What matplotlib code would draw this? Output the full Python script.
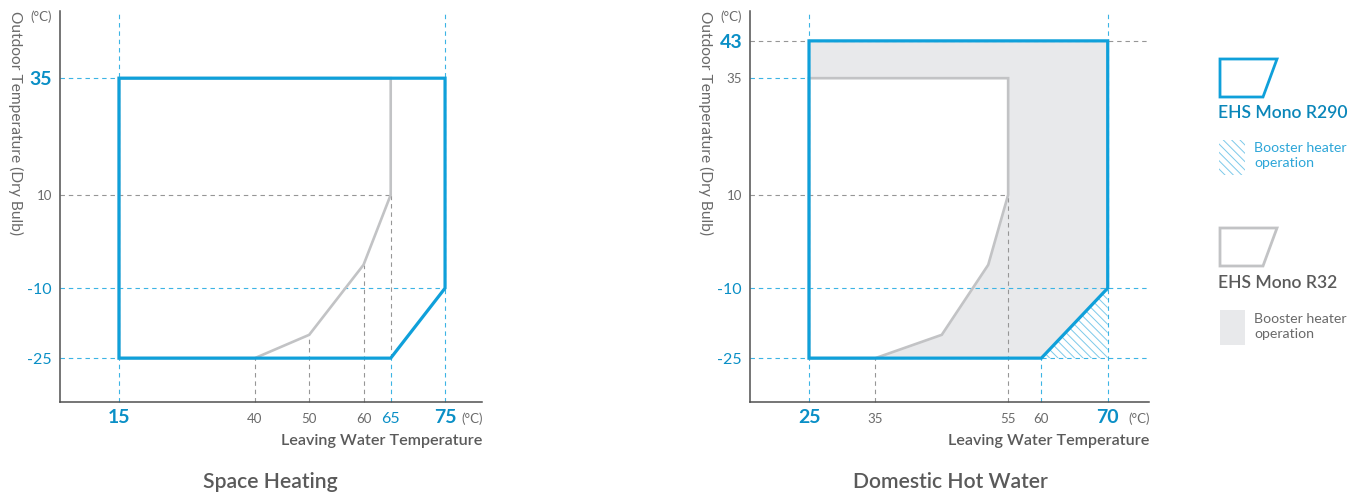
import matplotlib
matplotlib.use("Agg")
import matplotlib.pyplot as plt
from matplotlib.patches import Polygon

plt.rcParams['font.family'] = ['Lato', 'DejaVu Sans']
plt.rcParams['hatch.linewidth'] = 0.7

# ---- operating envelopes (leaving water temp, outdoor temp) ----
sh_r290_x = [15, 15, 75, 75, 65]
sh_r290_y = [-25, 35, 35, -10, -25]
sh_r32_x = [15, 15, 65, 65, 60, 50, 40]
sh_r32_y = [-25, 35, 35, 10, -5, -20, -25]

dhw_r290_x = [25, 25, 70, 70, 60]
dhw_r290_y = [-25, 43, 43, -10, -25]
dhw_r32_x = [25, 25, 55, 55, 52, 45, 35]
dhw_r32_y = [-25, 35, 35, 10, -5, -20, -25]
dhw_booster_x = [60, 70, 70]
dhw_booster_y = [-25, -10, -25]

# tick values and their emphasis: 'major' bold blue, 'blue' regular blue, 'minor' grey
sh_xticks = [15, 40, 50, 60, 65, 75]
sh_xkinds = ['major', 'minor', 'minor', 'minor', 'blue', 'major']
sh_yticks = [35, 10, -10, -25]
sh_ykinds = ['major', 'minor', 'blue', 'blue']

dhw_xticks = [25, 35, 55, 60, 70]
dhw_xkinds = ['major', 'minor', 'minor', 'minor', 'major']
dhw_yticks = [43, 35, 10, -10, -25]
dhw_ykinds = ['major', 'minor', 'minor', 'blue', 'blue']

BLUE = '#0fa0da'
BLUE_TXT = '#0a8fc6'
BLUE_DASH = '#3cb4e4'
GRAY_LINE = '#c2c3c5'
GRAY_FILL = '#e8e9eb'
GRAY_DASH = '#969696'
TXT = '#6a6a6a'
TXT_DARK = '#5a5a5a'
SPINE = '#4f4f4f'
HATCH = '#7cc9ea'

STYLES = {
    'major': dict(color=BLUE_TXT, fontsize=14, fontweight='bold'),
    'blue': dict(color=BLUE_TXT, fontsize=11.5),
    'minor': dict(color=TXT, fontsize=9.5),
}

W, H = 1362, 494
fig = plt.figure(figsize=(W / 100, H / 100), dpi=100)


def px_axes(x0, x1, y0, y1):
    return fig.add_axes([x0 / W, 1 - y1 / H, (x1 - x0) / W, (y1 - y0) / H])


def dashed(ax, xs, ys, color):
    ax.plot(xs, ys, color=color, lw=0.8, ls=(0, (4, 3.5)), zorder=2,
            clip_on=False)


def setup(ax, xlim, ylim, xticks, xkinds, yticks, ykinds, title, title_x):
    ax.set_xlim(*xlim)
    ax.set_ylim(*ylim)
    ax.set_xticks([])
    ax.set_yticks([])
    for s in ('top', 'right'):
        ax.spines[s].set_visible(False)
    for s in ('left', 'bottom'):
        ax.spines[s].set_color(SPINE)
        ax.spines[s].set_linewidth(1.1)
    for v, k in zip(xticks, xkinds):
        ax.annotate(str(v), xy=(v, 0), xycoords=('data', 'axes fraction'),
                    xytext=(0, -21), textcoords='offset pixels',
                    ha='center', va='baseline', **STYLES[k])
    for v, k in zip(yticks, ykinds):
        ax.annotate(str(v), xy=(0, v), xycoords=('axes fraction', 'data'),
                    xytext=(-8, 0), textcoords='offset pixels',
                    ha='right', va='center_baseline', **STYLES[k])
    ax.annotate('(°C)', xy=(0, 1), xycoords='axes fraction', xytext=(-8, -6),
                textcoords='offset pixels', ha='right', va='center',
                color=TXT, fontsize=9.5)
    ax.annotate('(°C)', xy=(1, 0), xycoords='axes fraction', xytext=(1, -21),
                textcoords='offset pixels', ha='right', va='baseline',
                color=TXT, fontsize=9.5)
    ax.annotate('Leaving Water Temperature', xy=(1, 0),
                xycoords='axes fraction', xytext=(0, -39),
                textcoords='offset pixels', ha='right', va='center',
                color=TXT_DARK, fontsize=11.6, fontweight='semibold')
    ax.annotate('Outdoor Temperature (Dry Bulb)', xy=(0, 1),
                xycoords='axes fraction', xytext=(-44, 0),
                textcoords='offset pixels', ha='center', va='top',
                rotation=-90, color=TXT, fontsize=11.2)
    fig.text(title_x / W, 1 - 482 / H, title, ha='center', va='center',
             color=TXT_DARK, fontsize=15.2, fontweight='semibold')


# ---------------- Space Heating ----------------
ax1 = px_axes(60, 482, 11, 402)
x0, x1 = 4.14, 81.8
y0, y1 = -34.4, 49.4
setup(ax1, (x0, x1), (y0, y1), sh_xticks, sh_xkinds, sh_yticks, sh_ykinds,
      'Space Heating', 270)

dashed(ax1, [x0, 15], [35, 35], BLUE_DASH)
dashed(ax1, [x0, 65], [10, 10], GRAY_DASH)
dashed(ax1, [x0, 75], [-10, -10], BLUE_DASH)
dashed(ax1, [x0, 15], [-25, -25], BLUE_DASH)
dashed(ax1, [15, 15], [y0, y1], BLUE_DASH)
dashed(ax1, [75, 75], [y0, y1], BLUE_DASH)
dashed(ax1, [65, 65], [y0, -25], BLUE_DASH)
dashed(ax1, [65, 65], [-25, 10], GRAY_DASH)
dashed(ax1, [60, 60], [y0, -5], GRAY_DASH)
dashed(ax1, [50, 50], [y0, -20], GRAY_DASH)
dashed(ax1, [40, 40], [y0, -25], GRAY_DASH)

ax1.add_patch(Polygon(list(zip(sh_r32_x, sh_r32_y)), closed=True,
                      fill=False, edgecolor=GRAY_LINE, lw=1.9, zorder=3,
                      joinstyle='miter'))
ax1.add_patch(Polygon(list(zip(sh_r290_x, sh_r290_y)), closed=True,
                      fill=False, edgecolor=BLUE, lw=2.3, zorder=4,
                      joinstyle='miter'))

# ---------------- Domestic Hot Water ----------------
ax2 = px_axes(750, 1149, 11, 402)
u0, u1 = 16.11, 76.22
setup(ax2, (u0, u1), (y0, y1), dhw_xticks, dhw_xkinds, dhw_yticks,
      dhw_ykinds, 'Domestic Hot Water', 950)

ax2.add_patch(Polygon(list(zip(dhw_r290_x, dhw_r290_y)), closed=True,
                      facecolor=GRAY_FILL, edgecolor='none', zorder=1))
ax2.add_patch(Polygon(list(zip(dhw_r32_x, dhw_r32_y)), closed=True,
                      facecolor='white', edgecolor='none', zorder=1.1))

dashed(ax2, [u0, u1], [43, 43], GRAY_DASH)
dashed(ax2, [u0, 25], [35, 35], BLUE_DASH)
dashed(ax2, [u0, 55], [10, 10], GRAY_DASH)
dashed(ax2, [u0, u1], [-10, -10], BLUE_DASH)
dashed(ax2, [u0, u1], [-25, -25], BLUE_DASH)
dashed(ax2, [25, 25], [y0, y1], BLUE_DASH)
dashed(ax2, [70, 70], [y0, y1], BLUE_DASH)
dashed(ax2, [35, 35], [y0, -25], GRAY_DASH)
dashed(ax2, [55, 55], [y0, 10], GRAY_DASH)
dashed(ax2, [60, 60], [y0, -25], BLUE_DASH)

ax2.add_patch(Polygon(list(zip(dhw_booster_x, dhw_booster_y)), closed=True,
                      facecolor='none', edgecolor=HATCH, lw=0,
                      hatch='\\\\\\\\', zorder=2.5))
ax2.add_patch(Polygon(list(zip(dhw_r32_x, dhw_r32_y)), closed=True,
                      fill=False, edgecolor=GRAY_LINE, lw=1.9, zorder=3,
                      joinstyle='miter'))
ax2.add_patch(Polygon(list(zip(dhw_r290_x, dhw_r290_y)), closed=True,
                      fill=False, edgecolor=BLUE, lw=2.3, zorder=4,
                      joinstyle='miter'))

# ---------------- Legend ----------------
lax = fig.add_axes([0, 0, 1, 1])
lax.set_xlim(0, W)
lax.set_ylim(H, 0)
lax.axis('off')
lax.patch.set_alpha(0)

lax.add_patch(Polygon([(1220, 59), (1277, 59), (1263, 97), (1220, 97)],
                      closed=True, fill=False, edgecolor=BLUE, lw=2.0,
                      joinstyle='miter'))
lax.text(1218, 113, 'EHS Mono R290', ha='left', va='center', color='#0a86b9',
         fontsize=12.6, fontweight='semibold')
lax.add_patch(Polygon([(1219, 140), (1245, 140), (1245, 175), (1219, 175)],
                      closed=True, facecolor='none', edgecolor=HATCH, lw=0,
                      hatch='\\\\\\\\'))
lax.text(1254, 155, 'Booster heater\noperation', ha='left', va='center',
         color='#2ea6d8', fontsize=10.2, linespacing=1.3)

lax.add_patch(Polygon([(1220, 228), (1277, 228), (1263, 266), (1220, 266)],
                      closed=True, fill=False, edgecolor=GRAY_LINE, lw=2.0,
                      joinstyle='miter'))
lax.text(1218, 283, 'EHS Mono R32', ha='left', va='center', color=TXT_DARK,
         fontsize=12.6, fontweight='semibold')
lax.add_patch(Polygon([(1220, 310), (1245, 310), (1245, 345), (1220, 345)],
                      closed=True, facecolor=GRAY_FILL, edgecolor='none'))
lax.text(1254, 326, 'Booster heater\noperation', ha='left', va='center',
         color=TXT, fontsize=10.2, linespacing=1.3)

fig.savefig('out.png', dpi=100)
